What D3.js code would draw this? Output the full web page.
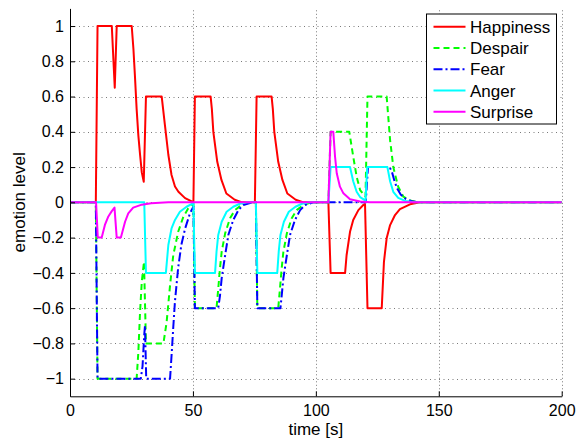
<!DOCTYPE html>
<html>
<head>
<meta charset="utf-8">
<script src="https://cdn.jsdelivr.net/npm/d3@7"></script>
<style>
  body { margin: 0; background: #fff; }
  text { font-family: "Liberation Sans", Arial, sans-serif; fill: #000; }
</style>
</head>
<body>
<div id="chart"></div>
<script>
// tick values
var xTicks = [0, 50, 100, 150, 200];
var yTicks = [-1, -0.8, -0.6, -0.4, -0.2, 0, 0.2, 0.4, 0.6, 0.8, 1];

// series names as [time, level] pairs
var names = ["Happiness", "Despair", "Fear", "Anger", "Surprise"];

var happiness = [[0,0],[10.5,0],[11.2,1],[17,1],[18.2,0.65],[19,1],[25.1,1],[25.8,0.87],[26.4,0.72],
  [27.1,0.53],[27.8,0.38],[28.5,0.27],[29.2,0.17],[30,0.117],[30.9,0.6],[37.3,0.6],[38.6,0.44],
  [40,0.27],[41.3,0.155],[42.7,0.09],[44.1,0.06],[46.8,0.024],[49.5,0.005],[50.2,0],[50.8,0.6],
  [57.2,0.6],[57.7,0.53],[58.3,0.4],[59.9,0.23],[61.6,0.127],[63.6,0.05],[67,0.015],[70,0],
  [75.2,0],[75.9,0.6],[82,0.6],[82.5,0.53],[83.1,0.4],[84.7,0.23],[86.4,0.127],[88.4,0.05],
  [91.8,0.015],[95,0],[105.1,0],[106,-0.4],[111.9,-0.4],[112.5,-0.3],[113.9,-0.167],[115.2,-0.1],
  [117.3,-0.044],[119.3,-0.015],[120,-0.01],[121,-0.6],[126.8,-0.6],[127.7,-0.337],[128.8,-0.204],
  [130.2,-0.129],[132.2,-0.072],[134.2,-0.038],[138.3,-0.011],[142.4,0],[200,0]];

var despair = [[0,0],[10.5,0],[11.2,-1],[27.1,-1],[27.8,-0.85],[28.5,-0.62],[29.2,-0.45],[30.1,-0.337],
  [30.9,-0.8],[38,-0.8],[39.3,-0.68],[40.7,-0.47],[42,-0.3],[44,-0.167],[46.1,-0.082],[48.1,-0.034],
  [50.2,-0.008],[50.8,-0.6],[59.6,-0.6],[60.3,-0.49],[61,-0.374],[61.7,-0.28],[63.1,-0.176],
  [65.1,-0.09],[67.1,-0.044],[69.8,-0.015],[73,0],[75.6,0],[76.2,-0.6],[84.7,-0.6],[85.4,-0.49],
  [86.1,-0.374],[86.8,-0.28],[88.2,-0.176],[90.2,-0.09],[92.2,-0.044],[94.9,-0.015],[98,0],
  [105.1,0],[106,0.4],[113.6,0.4],[115.2,0.26],[116.6,0.145],[118,0.07],[120.2,0.032],[121,0.6],
  [128.8,0.6],[130.2,0.353],[131.5,0.2],[133.5,0.088],[135.6,0.032],[138.3,0.01],[142,0],[200,0]];

var fear = [[0,0],[10.5,0],[11.2,-1],[28.8,-1],[29.5,-0.93],[30.2,-0.75],[30.5,-0.7],[31,-1],
  [40.7,-1],[41.3,-0.87],[42,-0.71],[42.7,-0.56],[44,-0.37],[45.3,-0.24],[46.8,-0.15],[48.8,-0.062],
  [50.2,-0.025],[50.8,-0.6],[60.3,-0.6],[61,-0.53],[61.7,-0.43],[63.1,-0.3],[64.4,-0.185],
  [66.4,-0.1],[68.5,-0.044],[70.5,-0.015],[74,0],[75.6,0],[76.2,-0.6],[85.6,-0.6],[86.1,-0.53],
  [86.8,-0.43],[88.2,-0.3],[89.5,-0.185],[91.5,-0.1],[93.6,-0.044],[95.6,-0.015],[99,0],
  [120.3,0],[121.2,0.2],[130,0.2],[131,0.17],[132,0.12],[133,0.08],[134.5,0.045],[136.5,0.02],
  [139,0.007],[142,0],[200,0]];

var anger = [[0,0],[30.2,0],[30.9,-0.4],[39,-0.4],[40,-0.242],[41.3,-0.148],[42.7,-0.1],[44.7,-0.053],
  [47.4,-0.025],[50.2,-0.005],[50.8,-0.4],[59,-0.4],[59.6,-0.28],[60.3,-0.185],[61.7,-0.11],
  [63.7,-0.053],[66.4,-0.025],[69.1,-0.008],[72,0],[75.6,0],[76.2,-0.4],[84.3,-0.4],[84.9,-0.28],
  [85.6,-0.185],[87,-0.11],[89,-0.053],[91.7,-0.025],[94.4,-0.008],[97,0],[105.1,0],[106,0.2],
  [113.9,0.2],[115.2,0.12],[116.6,0.06],[118,0.03],[120.2,0.01],[120.9,0.2],[129.1,0.2],
  [130.2,0.12],[131.5,0.06],[133.5,0.025],[136.3,0.008],[140,0],[200,0]];

var surprise = [[0,0],[10.6,0],[11.3,-0.2],[12.9,-0.2],[14.2,-0.128],[15.6,-0.08],[17,-0.05],
  [18.1,-0.03],[19,-0.2],[20.7,-0.2],[22.4,-0.11],[23.7,-0.063],[25.7,-0.03],[29.2,-0.013],
  [33,-0.005],[40,0],[105.1,0],[106,0.4],[107.1,0.4],[107.8,0.26],[108.5,0.165],[109.8,0.089],
  [111.2,0.051],[113.9,0.017],[118,0.005],[122,0],[200,0]];

var seriesData = [happiness, despair, fear, anger, surprise];
var colors = ["#ff0000", "#00ff00", "#0000ff", "#00ffff", "#ff00ff"];
var dashes = [null, "6,4", "9,3,2,3", null, null];

var width = 577, height = 439;
var margin = { top: 8.4, right: 15.3, bottom: 42.7, left: 70 };

var svg = d3.select("#chart").append("svg")
  .attr("width", width)
  .attr("height", height);

var x = d3.scaleLinear().domain([0, 200]).range([margin.left, width - margin.right]);
var y = d3.scaleLinear().domain([-1.1, 1.1]).range([height - margin.bottom, margin.top]);

// dotted grid
var grid = svg.append("g").attr("stroke", "#7a7a7a").attr("stroke-width", 1);
grid.selectAll("line.h").data(yTicks).enter().append("line")
  .attr("class", "h")
  .attr("x1", x(0)).attr("x2", x(200))
  .attr("y1", function (d) { return Math.round(y(d)) + 0.5; })
  .attr("y2", function (d) { return Math.round(y(d)) + 0.5; })
  .attr("stroke-dasharray", "1,3.5");
grid.selectAll("line.v").data(xTicks.slice(1)).enter().append("line")
  .attr("class", "v")
  .attr("x1", function (d) { return Math.round(x(d)) + 0.5; })
  .attr("x2", function (d) { return Math.round(x(d)) + 0.5; })
  .attr("y1", y(-1.1)).attr("y2", y(1.1))
  .attr("stroke-dasharray", "1,2.5");

// lines
var line = d3.line()
  .x(function (d) { return x(d[0]); })
  .y(function (d) { return y(d[1]); });

svg.append("g").selectAll("path").data(seriesData).enter().append("path")
  .attr("d", line)
  .attr("fill", "none")
  .attr("stroke", function (d, i) { return colors[i]; })
  .attr("stroke-width", 2)
  .attr("stroke-linejoin", "round")
  .attr("stroke-dasharray", function (d, i) { return dashes[i]; });

// axes (ticks pointing inward, no box)
var fmt = d3.format("~g");
var xAxis = svg.append("g")
  .attr("transform", "translate(0," + y(-1.1) + ")")
  .call(d3.axisBottom(x).tickValues(xTicks).tickSizeInner(-5).tickSizeOuter(0).tickPadding(8).tickFormat(fmt));
var yAxis = svg.append("g")
  .attr("transform", "translate(" + x(0) + ",0)")
  .call(d3.axisLeft(y).tickValues(yTicks).tickSizeInner(-5).tickSizeOuter(0).tickPadding(6).tickFormat(fmt));

[xAxis, yAxis].forEach(function (g) {
  g.selectAll("text").style("font-size", "16px").attr("fill", "#000");
  g.selectAll("line").attr("stroke", "#000");
  g.select(".domain").attr("stroke", "#000");
});

// axis labels
svg.append("text")
  .attr("x", (x(0) + x(200)) / 2)
  .attr("y", 435)
  .attr("text-anchor", "middle")
  .style("font-size", "17px")
  .text("time [s]");

svg.append("text")
  .attr("transform", "translate(25," + (y(0)) + ") rotate(-90)")
  .attr("text-anchor", "middle")
  .style("font-size", "17px")
  .text("emotion level");

// legend
var legend = svg.append("g").attr("transform", "translate(426.5,14)");
legend.append("rect")
  .attr("width", 130).attr("height", 110)
  .attr("fill", "#fff").attr("stroke", "#000").attr("stroke-width", 1);
var rows = legend.selectAll("g.row").data(names).enter().append("g")
  .attr("class", "row")
  .attr("transform", function (d, i) { return "translate(0," + (12.7 + i * 21.25) + ")"; });
rows.append("line")
  .attr("x1", 7).attr("x2", 39)
  .attr("stroke", function (d, i) { return colors[i]; })
  .attr("stroke-width", 2)
  .attr("stroke-dasharray", function (d, i) { return dashes[i]; });
rows.append("text")
  .attr("x", 43.5)
  .attr("dy", "0.36em")
  .style("font-size", "17px")
  .text(function (d) { return d; });
</script>
</body>
</html>
